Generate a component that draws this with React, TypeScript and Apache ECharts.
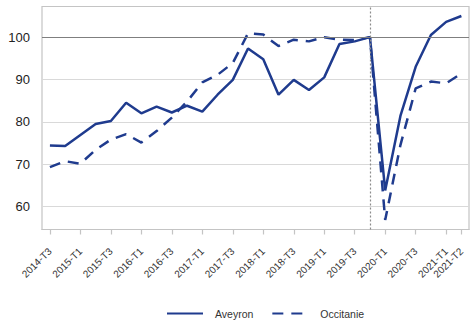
import React, { useEffect, useRef } from "react";
import * as echarts from "echarts";

const categories = [
  "2014-T3", "2014-T4", "2015-T1", "2015-T2", "2015-T3", "2015-T4",
  "2016-T1", "2016-T2", "2016-T3", "2016-T4", "2017-T1", "2017-T2",
  "2017-T3", "2017-T4", "2018-T1", "2018-T2", "2018-T3", "2018-T4",
  "2019-T1", "2019-T2", "2019-T3", "2019-T4", "2020-T1", "2020-T2",
  "2020-T3", "2020-T4", "2021-T1", "2021-T2",
];

const aveyron = [
  74.4, 74.3, 76.9, 79.5, 80.2, 84.5, 82.0, 83.6, 82.2, 83.8, 82.4, 86.4,
  89.9, 97.3, 94.8, 86.4, 89.9, 87.5, 90.5, 98.4, 99.0, 100, 63.8, 81.4,
  93.0, 100.5, 103.6, 105.0,
];

const occitanie = [
  69.3, 70.7, 70.1, 73.4, 75.8, 77.1, 75.1, 77.8, 81.0, 84.8, 89.3, 91.1,
  93.9, 100.9, 100.6, 97.9, 99.4, 99.0, 100.0, 99.4, 99.3, 100, 56.8, 74.5,
  87.9, 89.5, 89.1, 91.4,
];

const xTickIndices = [0, 2, 4, 6, 8, 10, 12, 14, 16, 18, 20, 22, 24, 26, 27];
const yTickValues = [60, 70, 80, 90, 100];
const baseIndex = 21;
const baseValue = 100;

const seriesNames = ["Aveyron", "Occitanie"];
const navy = "#1f3b8e";

export default function App() {
  const ref = useRef<HTMLDivElement>(null);

  useEffect(() => {
    if (!ref.current) return;
    const chart = echarts.init(ref.current, undefined, { renderer: "svg" });
    const toPairs = (arr: number[]) => arr.map((v, i) => [i, v]);
    chart.setOption({
      animation: false,
      grid: {
        left: 42,
        right: 2,
        top: 6.5,
        bottom: 95.5,
        show: true,
        borderColor: "#c4c4c4",
        borderWidth: 1.2,
      },
      legend: {
        left: 161,
        top: 303,
        itemWidth: 36,
        itemHeight: 14,
        itemGap: 18,
        data: seriesNames,
        itemStyle: { opacity: 0, borderWidth: 0 },
        textStyle: {
          fontFamily: "Liberation Sans, Arial, sans-serif",
          fontSize: 10.5,
          color: "#333",
          padding: [0, 0, 0, 7],
        },
      },
      xAxis: {
        type: "value",
        min: -0.52,
        max: 27.5,
        axisLine: { show: true, lineStyle: { color: "#c4c4c4", width: 1.2 } },
        axisTick: {
          show: true,
          length: 5,
          customValues: xTickIndices,
          lineStyle: { color: "#c4c4c4", width: 1.2 },
        },
        axisLabel: {
          customValues: xTickIndices,
          rotate: 45,
          margin: 20,
          fontFamily: "Liberation Sans, Arial, sans-serif",
          fontSize: 10,
          color: "#333",
          formatter: (v: number) => categories[Math.round(v)] ?? "",
        },
        splitLine: { show: false },
      },
      yAxis: {
        type: "value",
        min: 54.56,
        max: 107.24,
        axisLine: { show: false },
        axisTick: { show: false, customValues: yTickValues },
        axisLabel: {
          customValues: yTickValues,
          margin: 12,
          fontFamily: "Liberation Sans, Arial, sans-serif",
          fontSize: 13,
          color: "#222",
        },
        splitLine: { show: true, lineStyle: { color: "#d9d9d9", width: 1 } },
      },
      series: [
        {
          name: seriesNames[0],
          type: "line",
          data: toPairs(aveyron),
          symbol: "none",
          lineStyle: { color: navy, width: 2.5 },
          itemStyle: { color: navy },
          markLine: {
            silent: true,
            symbol: "none",
            label: { show: false },
            data: [
              { yAxis: baseValue, lineStyle: { color: "#7f7f7f", width: 1.2, type: "solid" } },
              { xAxis: baseIndex, lineStyle: { color: "#8c8c8c", width: 1.2, type: [2, 2] } },
            ],
          },
          z: 3,
        },
        {
          name: seriesNames[1],
          type: "line",
          data: toPairs(occitanie),
          symbol: "none",
          lineStyle: { color: navy, width: 2.5, type: [11, 8] },
          itemStyle: { color: navy },
          z: 3,
        },
      ],
    });
    return () => chart.dispose();
  }, []);

  return <div ref={ref} style={{ width: 471, height: 325, position: "absolute", left: 0, top: 0 }} />;
}
